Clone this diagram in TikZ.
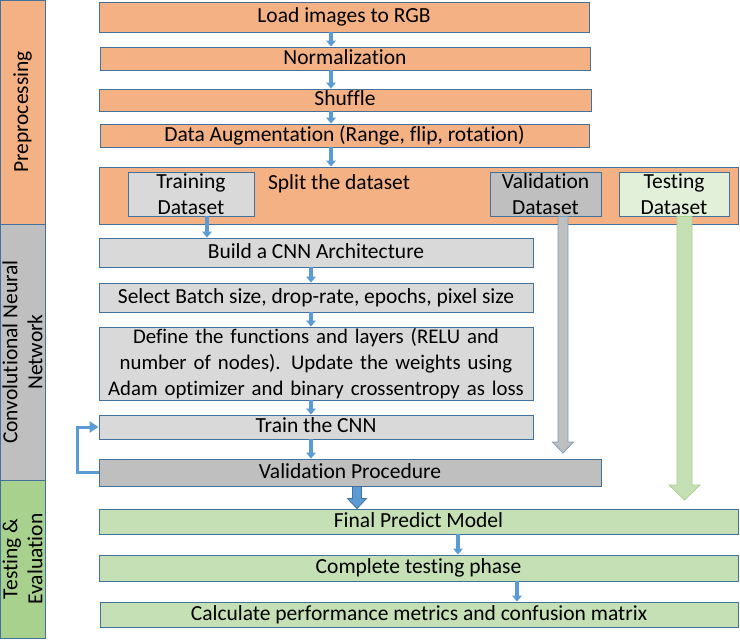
\documentclass[tikz,border=0pt]{standalone}
\usepackage{fontspec}
\setmainfont{Carlito}[Ligatures=NoCommon]
\usetikzlibrary{arrows.meta,calc}
\definecolor{orng}{HTML}{F4B183}
\definecolor{lgray}{HTML}{D9D9D9}
\definecolor{dgray}{HTML}{BFBFBF}
\definecolor{lgreen}{HTML}{C5E0B4}
\definecolor{pgreen}{HTML}{E2F0D9}
\definecolor{sgreen}{HTML}{A9D18E}
\definecolor{edgec}{HTML}{41719C}
\definecolor{arrc}{HTML}{5B9BD5}
\begin{document}
\begin{tikzpicture}[x=1pt,y=-1pt,
  basebox/.style={draw=edgec, line width=0.9pt, inner sep=0pt, font=\fontsize{21.5}{26}\selectfont},
  box/.style={basebox, text height=14pt, text depth=3pt},
  sidebar/.style={draw=edgec, line width=0.9pt, inner sep=0pt, rotate=90, align=center, font=\fontsize{21.5}{25}\selectfont},
  sarr/.style={draw=arrc, line width=4pt, -{Triangle[width=9.5pt,length=6pt]}},
  fbarr/.style={draw=arrc, line width=3pt, -{Triangle[width=11pt,length=9pt]}},
  blockarr/.style={line width=0.8pt, line join=miter}
]
\useasboundingbox (0,0) rectangle (740,640);

% side bars
\node[sidebar, fill=orng, minimum width=224pt, minimum height=45pt] (pre) at (22.5,112) {Preprocessing};
\node[sidebar, fill=dgray, minimum width=256pt, minimum height=45pt] (cnn) at (22.5,352) {Convolutional Neural\\Network};
\node[sidebar, fill=sgreen, minimum width=158pt, minimum height=45pt] (tst) at (22.5,559) {Testing \&\\Evaluation};

% preprocessing boxes
\node[box, fill=orng, minimum width=490pt, minimum height=30pt] (load) at (344,17) {Load images to RGB};
\node[box, fill=orng, minimum width=490pt, minimum height=23pt] (norm) at (345,58.5) {Normalization};
\node[box, fill=orng, minimum width=492pt, minimum height=22pt] (shuf) at (345,100) {Shuffle};
\node[box, fill=orng, minimum width=489pt, minimum height=23pt] (aug) at (344.5,135.5) {Data Augmentation (Range, flip, rotation)};
\node[box, fill=orng, minimum width=639pt, minimum height=57pt] (split) at (418.5,195.5) {};
\node[font=\fontsize{21.5}{26}\selectfont, inner sep=0pt, text height=14pt, text depth=3pt] (splittxt) at (339,184) {Split the dataset};
\node[basebox, fill=lgray, align=center, minimum width=126pt, minimum height=44pt] (trainds) at (191,194) {Training\\Dataset};
\node[basebox, fill=dgray, align=center, minimum width=111pt, minimum height=44pt] (valds) at (545.5,194) {Validation\\Dataset};
\node[basebox, fill=pgreen, align=center, minimum width=110pt, minimum height=44pt] (testds) at (674,194) {Testing\\Dataset};

% CNN boxes
\node[box, fill=lgray, minimum width=434pt, minimum height=29pt] (build) at (316,252.5) {Build a CNN Architecture};
\node[box, fill=lgray, minimum width=434pt, minimum height=29pt] (select) at (316,297.5) {Select Batch size, drop-rate, epochs, pixel size};
\node[basebox, fill=lgray, align=center, text width=434pt, minimum height=73pt, font=\fontsize{20.8}{26}\selectfont] (define) at (316,363.5) {Define the functions and layers (RELU and\\number of nodes). Update the weights using\\Adam optimizer and binary crossentropy as loss};
\node[box, fill=lgray, minimum width=434pt, minimum height=24pt] (traincnn) at (316,427) {Train the CNN};
\node[box, fill=dgray, minimum width=502pt, minimum height=27pt] (valproc) at (350,472.5) {Validation Procedure};

% testing boxes
\node[box, fill=lgreen, minimum width=639pt, minimum height=25pt] (final) at (418.5,521.5) {Final Predict Model};
\node[box, fill=lgreen, minimum width=639pt, minimum height=26pt] (complete) at (418.5,568) {Complete testing phase};
\node[box, fill=lgreen, minimum width=638pt, minimum height=25pt] (calc) at (419,614.5) {Calculate performance metrics and confusion matrix};

% x positions of connectors
\coordinate (c1) at (331,0);
\coordinate (c2) at (207,0);
\coordinate (c3) at (311,0);
\coordinate (c4) at (357,0);
\coordinate (c5) at (458,0);
\coordinate (c6) at (517,0);
\coordinate (cg) at (563,0);
\coordinate (ct) at (684.5,0);
\coordinate (gtip) at (563,453);
\coordinate (ttip) at (684.5,500);

% small arrows
\draw[sarr] (load.south -| c1) -- (norm.north -| c1);
\draw[sarr] (norm.south -| c1) -- (shuf.north -| c1);
\draw[sarr] (shuf.south -| c1) -- (aug.north -| c1);
\draw[sarr] (aug.south -| c1) -- (split.north -| c1);
\draw[sarr] (trainds.south -| c2) -- (build.north -| c2);
\draw[sarr] (build.south -| c3) -- (select.north -| c3);
\draw[sarr] (select.south -| c3) -- (define.north -| c3);
\draw[sarr] (define.south -| c3) -- (traincnn.north -| c3);
\draw[sarr] (traincnn.south -| c3) -- (valproc.north -| c3);
\draw[sarr] (final.south -| c5) -- (complete.north -| c5);
\draw[sarr] (complete.south -| c6) -- (calc.north -| c6);

% feedback loop
\draw[fbarr] (valproc.west) -- ++(-21,0) |- (traincnn.west);

% block arrow validation procedure -> final
\filldraw[blockarr, fill=arrc, draw=edgec]
  ($(valproc.south -| c4)+(-4.5,0)$) -- ($(final.north -| c4)+(-4.5,-10)$) -- ($(final.north -| c4)+(-9.5,-10)$)
  -- (final.north -| c4) -- ($(final.north -| c4)+(9.5,-10)$) -- ($(final.north -| c4)+(4.5,-10)$)
  -- ($(valproc.south -| c4)+(4.5,0)$) -- cycle;

% gray block arrow from validation dataset
\filldraw[blockarr, fill=dgray, draw=edgec!70]
  ($(valds.south -| cg)+(-5,0)$) -- ($(gtip)+(-5,-11)$) -- ($(gtip)+(-10.5,-11)$)
  -- (gtip) -- ($(gtip)+(10.5,-11)$) -- ($(gtip)+(5,-11)$)
  -- ($(valds.south -| cg)+(5,0)$) -- cycle;

% green block arrow from testing dataset
\filldraw[blockarr, fill=lgreen, draw=sgreen]
  ($(testds.south -| ct)+(-7.5,0)$) -- ($(ttip)+(-7.5,-15)$) -- ($(ttip)+(-15.5,-15)$)
  -- (ttip) -- ($(ttip)+(15.5,-15)$) -- ($(ttip)+(7.5,-15)$)
  -- ($(testds.south -| ct)+(7.5,0)$) -- cycle;
\end{tikzpicture}
\end{document}
